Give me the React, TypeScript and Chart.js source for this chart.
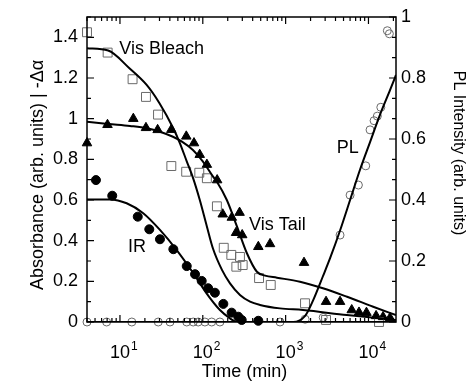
import React, { useEffect, useRef } from 'react';
import { Chart, registerables } from 'chart.js';

Chart.register(...registerables);

// ---------- data (time in minutes) ----------
// Vis Bleach (open squares), left axis
const visBleachT = [4, 7.1, 14.2, 20.6, 28.8, 41.7, 63, 90.7, 112, 148, 179, 221, 281, 254, 303, 478, 661, 1714, 3076, 13400];
const visBleachA = [1.425, 1.325, 1.194, 1.107, 1.02, 0.767, 0.739, 0.734, 0.707, 0.569, 0.365, 0.33, 0.32, 0.272, 0.28, 0.216, 0.182, 0.092, 0.01, 0.0];
const visBleachFitT = [4, 7.2, 13, 21, 30, 44, 53, 64, 76, 92, 112, 133, 171, 213, 281, 372, 491, 856, 1620, 5500, 21500];
const visBleachFitA = [1.346, 1.335, 1.248, 1.166, 1.076, 0.953, 0.879, 0.79, 0.71, 0.6, 0.47, 0.36, 0.255, 0.19, 0.133, 0.1, 0.084, 0.067, 0.059, 0.034, 0.01];

// Vis Tail (filled triangles), left axis
const visTailT = [4, 7.07, 14.5, 20.6, 28.5, 41.7, 63.2, 78.3, 91.8, 112, 149, 174, 224, 278, 252, 299, 468, 648, 1667, 3076, 4540, 6280, 7690, 9460, 12360, 15000, 18200];
const visTailA = [0.88, 0.97, 1.0, 0.955, 0.945, 0.946, 0.913, 0.88, 0.823, 0.774, 0.698, 0.53, 0.514, 0.538, 0.439, 0.428, 0.37, 0.384, 0.292, 0.1, 0.1, 0.059, 0.047, 0.046, 0.03, 0.025, 0.02];
const visTailFitT = [4, 7.2, 13.2, 21.2, 30.4, 43.6, 56, 76, 100, 133, 148, 195, 259, 341, 450, 565, 785, 1490, 2820, 5520, 11400, 21500];
const visTailFitA = [0.985, 0.974, 0.964, 0.953, 0.936, 0.911, 0.887, 0.846, 0.79, 0.715, 0.69, 0.6, 0.469, 0.338, 0.247, 0.228, 0.218, 0.198, 0.166, 0.124, 0.075, 0.034];

// IR (filled circles), left axis
const irT = [5.13, 8.07, 16.4, 22.6, 30.4, 44.1, 64, 80.6, 97, 116, 140, 177, 223, 268, 295, 468];
const irA = [0.698, 0.621, 0.518, 0.456, 0.407, 0.358, 0.275, 0.235, 0.202, 0.166, 0.144, 0.089, 0.046, 0.026, 0.01, 0.006];
const irFitT = [4, 7.6, 12.05, 19.1, 30.4, 48.4, 76.9, 111, 161, 213, 258, 21500];
const irFitA = [0.603, 0.603, 0.584, 0.535, 0.453, 0.354, 0.24, 0.141, 0.059, 0.018, 0, 0];

// PL (open circles), right axis
const plT = [4, 6.9, 13.9, 29, 40.2, 64, 76.6, 88, 106, 128, 161, 856, 1720, 2840, 4540, 6000, 7560, 9270, 10450, 11690, 12800, 14090, 16900, 17880];
const plI = [0, 0, 0, 0, 0, 0, 0, 0, 0, 0, 0, 0, 0.009, 0.015, 0.285, 0.416, 0.449, 0.512, 0.63, 0.66, 0.675, 0.704, 0.955, 0.945];
const plFitT = [4, 281, 1230, 1720, 2140, 2820, 3450, 4540, 6000, 7920, 10450, 13800, 18200, 21500];
const plFitI = [0, 0, 0, 0.02, 0.07, 0.15, 0.21, 0.3, 0.4, 0.5, 0.59, 0.68, 0.76, 0.81];

// axes
const xMin = 4;
const xMax = 21500;
const xDecadeExponents = ['1', '2', '3', '4'];
const leftTickValues = [0, 0.2, 0.4, 0.6, 0.8, 1, 1.2, 1.4];
const leftTickLabels = ['0', '0.2', '0.4', '0.6', '0.8', '1', '1.2', '1.4'];
const rightTickValues = [0, 0.2, 0.4, 0.6, 0.8, 1];
const rightTickLabels = ['0', '0.2', '0.4', '0.6', '0.8', '1'];
const xTitle = 'Time (min)';
const yTitle = 'Absorbance (arb. units) | -Δα';
const y2Title = 'PL Intensity (arb. units)';

// in-plot labels (time, left-axis value)
const noteTexts = ['Vis Bleach', 'Vis Tail', 'IR', 'PL'];
const noteTimes = [9.8, 361, 12.5, 4140];
const noteValues = [1.343, 0.475, 0.37, 0.856];

const FONT = '"Liberation Sans", Arial, Helvetica, sans-serif';

const pts = (xs: number[], ys: number[]) => xs.map((x, i) => ({ x, y: ys[i] }));

const decorPlugin = {
  id: 'decor',
  afterDraw(chart: any) {
    const { ctx, chartArea: a, scales } = chart;
    const sx = scales.x;
    const sy = scales.y;
    const sy2 = scales.y2;
    ctx.save();
    ctx.strokeStyle = '#000';
    ctx.lineWidth = 1.5;
    ctx.strokeRect(a.left, a.top, a.right - a.left, a.bottom - a.top);

    ctx.lineWidth = 1.2;
    ctx.beginPath();
    for (let e = 0; e <= 5; e++) {
      for (let m = 1; m <= 9; m++) {
        const v = m * Math.pow(10, e);
        if (v < xMin || v > xMax) continue;
        const px = sx.getPixelForValue(v);
        const len = m === 1 ? 7 : 4;
        ctx.moveTo(px, a.bottom);
        ctx.lineTo(px, a.bottom - len);
        ctx.moveTo(px, a.top);
        ctx.lineTo(px, a.top + len);
      }
    }
    for (let k = 0; k <= 15; k++) {
      const py = sy.getPixelForValue(k * 0.1);
      const len = k % 2 === 0 ? 7 : 4;
      ctx.moveTo(a.left, py);
      ctx.lineTo(a.left + len, py);
    }
    for (let k = 0; k <= 15; k++) {
      const py = sy2.getPixelForValue(k / 15);
      const len = k % 3 === 0 ? 7 : 4;
      ctx.moveTo(a.right, py);
      ctx.lineTo(a.right - len, py);
    }
    ctx.stroke();

    ctx.fillStyle = '#000';
    ctx.font = `18px ${FONT}`;
    ctx.textBaseline = 'middle';
    ctx.textAlign = 'right';
    leftTickValues.forEach((v, i) => {
      ctx.fillText(leftTickLabels[i], a.left - 9, sy.getPixelForValue(v));
    });
    ctx.textAlign = 'left';
    rightTickValues.forEach((v, i) => {
      ctx.fillText(rightTickLabels[i], a.right + 5, sy2.getPixelForValue(v));
    });

    // x decade labels 10^n
    ctx.textBaseline = 'alphabetic';
    xDecadeExponents.forEach((ex) => {
      const px = sx.getPixelForValue(Math.pow(10, Number(ex)));
      ctx.font = `18px ${FONT}`;
      ctx.textAlign = 'center';
      ctx.fillText('10', px, a.bottom + 36);
      const w = ctx.measureText('10').width;
      ctx.font = `12px ${FONT}`;
      ctx.textAlign = 'left';
      ctx.fillText(ex, px + w / 2 + 1, a.bottom + 28);
    });

    ctx.font = `18px ${FONT}`;
    ctx.textAlign = 'center';
    ctx.fillText(xTitle, (a.left + a.right) / 2 + 3, a.bottom + 55);

    ctx.textBaseline = 'middle';
    ctx.save();
    ctx.translate(38, 175);
    ctx.rotate(-Math.PI / 2);
    ctx.font = `18px ${FONT}`;
    ctx.fillText(yTitle, 0, 0);
    ctx.restore();

    ctx.save();
    ctx.translate(458, 153);
    ctx.rotate(Math.PI / 2);
    ctx.font = `16px ${FONT}`;
    ctx.fillText(y2Title, 0, 0);
    ctx.restore();

    ctx.font = `18px ${FONT}`;
    ctx.textAlign = 'left';
    noteTexts.forEach((t, i) => {
      ctx.fillText(t, sx.getPixelForValue(noteTimes[i]), sy.getPixelForValue(noteValues[i]));
    });
    ctx.restore();
  },
};

export default function App() {
  const ref = useRef<HTMLCanvasElement | null>(null);
  useEffect(() => {
    if (!ref.current) return;
    const line = (xs: number[], ys: number[], axis: string) => ({
      data: pts(xs, ys),
      showLine: true,
      fill: false,
      pointRadius: 0,
      borderColor: '#000',
      borderWidth: 2,
      cubicInterpolationMode: 'monotone',
      yAxisID: axis,
    });
    const chart = new Chart(ref.current, {
      type: 'scatter',
      data: {
        datasets: [
          { label: 'Vis Bleach fit', ...line(visBleachFitT, visBleachFitA, 'y') },
          { label: 'Vis Tail fit', ...line(visTailFitT, visTailFitA, 'y') },
          { label: 'IR fit', ...line(irFitT, irFitA, 'y') },
          { label: 'PL fit', ...line(plFitT, plFitI, 'y2') },
          {
            label: 'Vis Bleach',
            data: pts(visBleachT, visBleachA),
            yAxisID: 'y',
            pointStyle: 'rect',
            pointRadius: 6.3,
            borderColor: '#6a6a6a',
            borderWidth: 1,
            backgroundColor: 'rgba(0,0,0,0)',
            clip: false,
          },
          {
            label: 'Vis Tail',
            data: pts(visTailT, visTailA),
            yAxisID: 'y',
            pointStyle: 'triangle',
            pointRadius: 5.5,
            borderColor: '#000',
            borderWidth: 1,
            backgroundColor: '#000',
            clip: false,
          },
          {
            label: 'IR',
            data: pts(irT, irA),
            yAxisID: 'y',
            pointStyle: 'circle',
            pointRadius: 4.5,
            borderColor: '#000',
            borderWidth: 1,
            backgroundColor: '#000',
            clip: false,
          },
          {
            label: 'PL',
            data: pts(plT, plI),
            yAxisID: 'y2',
            pointStyle: 'circle',
            pointRadius: 4,
            borderColor: '#6a6a6a',
            borderWidth: 1,
            backgroundColor: 'rgba(0,0,0,0)',
            clip: false,
          },
        ],
      },
      options: {
        responsive: false,
        animation: false,
        events: [],
        layout: { padding: { top: 17, left: 0, right: 0, bottom: 0 } },
        plugins: { legend: { display: false }, tooltip: { enabled: false } },
        scales: {
          x: {
            type: 'logarithmic',
            min: xMin,
            max: xMax,
            ticks: { display: false },
            grid: { display: false },
            border: { display: false },
            afterFit: (s: any) => { s.height = 68; },
          },
          y: {
            type: 'linear',
            position: 'left',
            min: 0,
            max: 1.5,
            ticks: { display: false },
            grid: { display: false },
            border: { display: false },
            afterFit: (s: any) => { s.width = 87; },
          },
          y2: {
            type: 'linear',
            position: 'right',
            min: 0,
            max: 1,
            ticks: { display: false },
            grid: { display: false },
            border: { display: false },
            afterFit: (s: any) => { s.width = 73; },
          },
        },
      } as any,
      plugins: [decorPlugin],
    });
    return () => chart.destroy();
  }, []);
  return (
    <div style={{ position: 'absolute', left: 0, top: 0, width: 469, height: 390, background: '#fff' }}>
      <canvas ref={ref} width={469} height={390} style={{ display: 'block' }} />
    </div>
  );
}
